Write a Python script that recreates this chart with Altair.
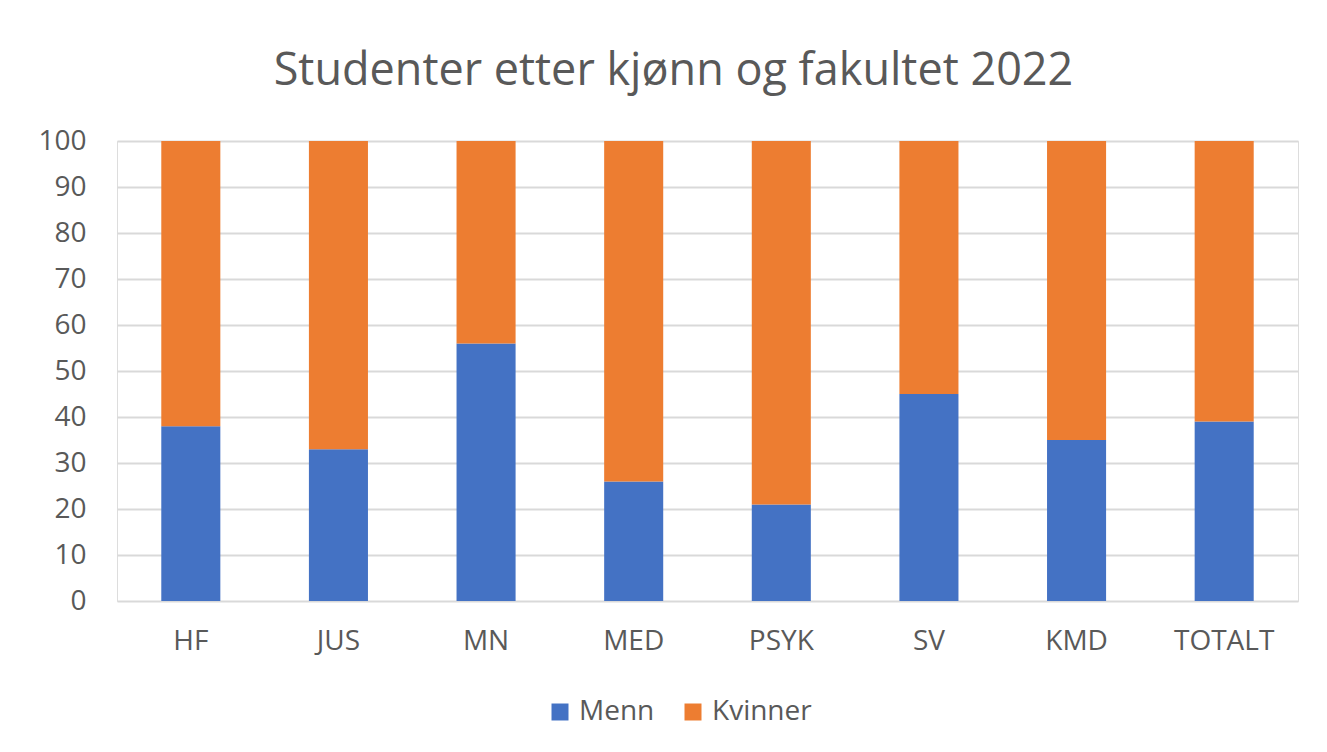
import altair as alt
import pandas as pd

fakulteter = ["HF", "JUS", "MN", "MED", "PSYK", "SV", "KMD", "TOTALT"]
menn = [38, 33, 56, 26, 21, 45, 35, 39]
kvinner = [62, 67, 44, 74, 79, 55, 65, 61]
kjonn = ["Menn", "Kvinner"]
farger = ["#4472C4", "#ED7D31"]
y_ticks = [0, 10, 20, 30, 40, 50, 60, 70, 80, 90, 100]

rows = []
for f, m, k in zip(fakulteter, menn, kvinner):
    rows.append({"Fakultet": f, "Kjønn": "Menn", "Andel": m, "rekkefolge": 0})
    rows.append({"Fakultet": f, "Kjønn": "Kvinner", "Andel": k, "rekkefolge": 1})
df = pd.DataFrame(rows)

FONT = "Open Sans"
GREY = "#595959"

chart = (
    alt.Chart(df)
    .mark_bar()
    .encode(
        x=alt.X(
            "Fakultet:N",
            sort=fakulteter,
            title=None,
            scale=alt.Scale(paddingInner=0.6, paddingOuter=0.3),
            axis=alt.Axis(
                labelAngle=0,
                labelFontSize=28,
                labelFont=FONT,
                labelColor=GREY,
                labelPadding=26,
                ticks=False,
                domain=False,
                grid=False,
            ),
        ),
        y=alt.Y(
            "Andel:Q",
            stack="zero",
            title=None,
            scale=alt.Scale(domain=[0, 100], nice=False),
            axis=alt.Axis(
                values=y_ticks,
                labelFontSize=28,
                labelFont=FONT,
                labelColor=GREY,
                labelPadding=31,
                ticks=False,
                domain=False,
                gridColor="#d9d9d9",
                gridWidth=2,
            ),
        ),
        color=alt.Color(
            "Kjønn:N",
            sort=kjonn,
            scale=alt.Scale(domain=kjonn, range=farger),
            legend=alt.Legend(
                title=None,
                orient="none",
                direction="horizontal",
                legendX=429,
                legendY=557,
                symbolType="square",
                symbolSize=289,
                symbolStrokeWidth=0,
                labelFontSize=28,
                labelFont=FONT,
                labelColor=GREY,
                columnPadding=24,
                symbolOffset=0,
                labelOffset=5,
            ),
        ),
        order=alt.Order("rekkefolge:Q", sort="ascending"),
    )
    .properties(
        width=1181,
        height=460,
        padding={"left": 109, "top": 133, "right": 20, "bottom": 140},
        autosize=alt.AutoSizeParams(type="none"),
        title=alt.TitleParams(
            "Studenter etter kjønn og fakultet 2022",
            fontSize=45,
            font=FONT,
            fontWeight="normal",
            color=GREY,
            anchor="middle",
            dx=-34,
            offset=33,
        ),
    )
    .configure_view(stroke=None, strokeWidth=0)
    .configure_axis(domain=False)
    .configure_axisX(grid=False)
    .configure(background="white")
)

chart.save("out.html", embed_options={"renderer": "svg", "actions": False})
